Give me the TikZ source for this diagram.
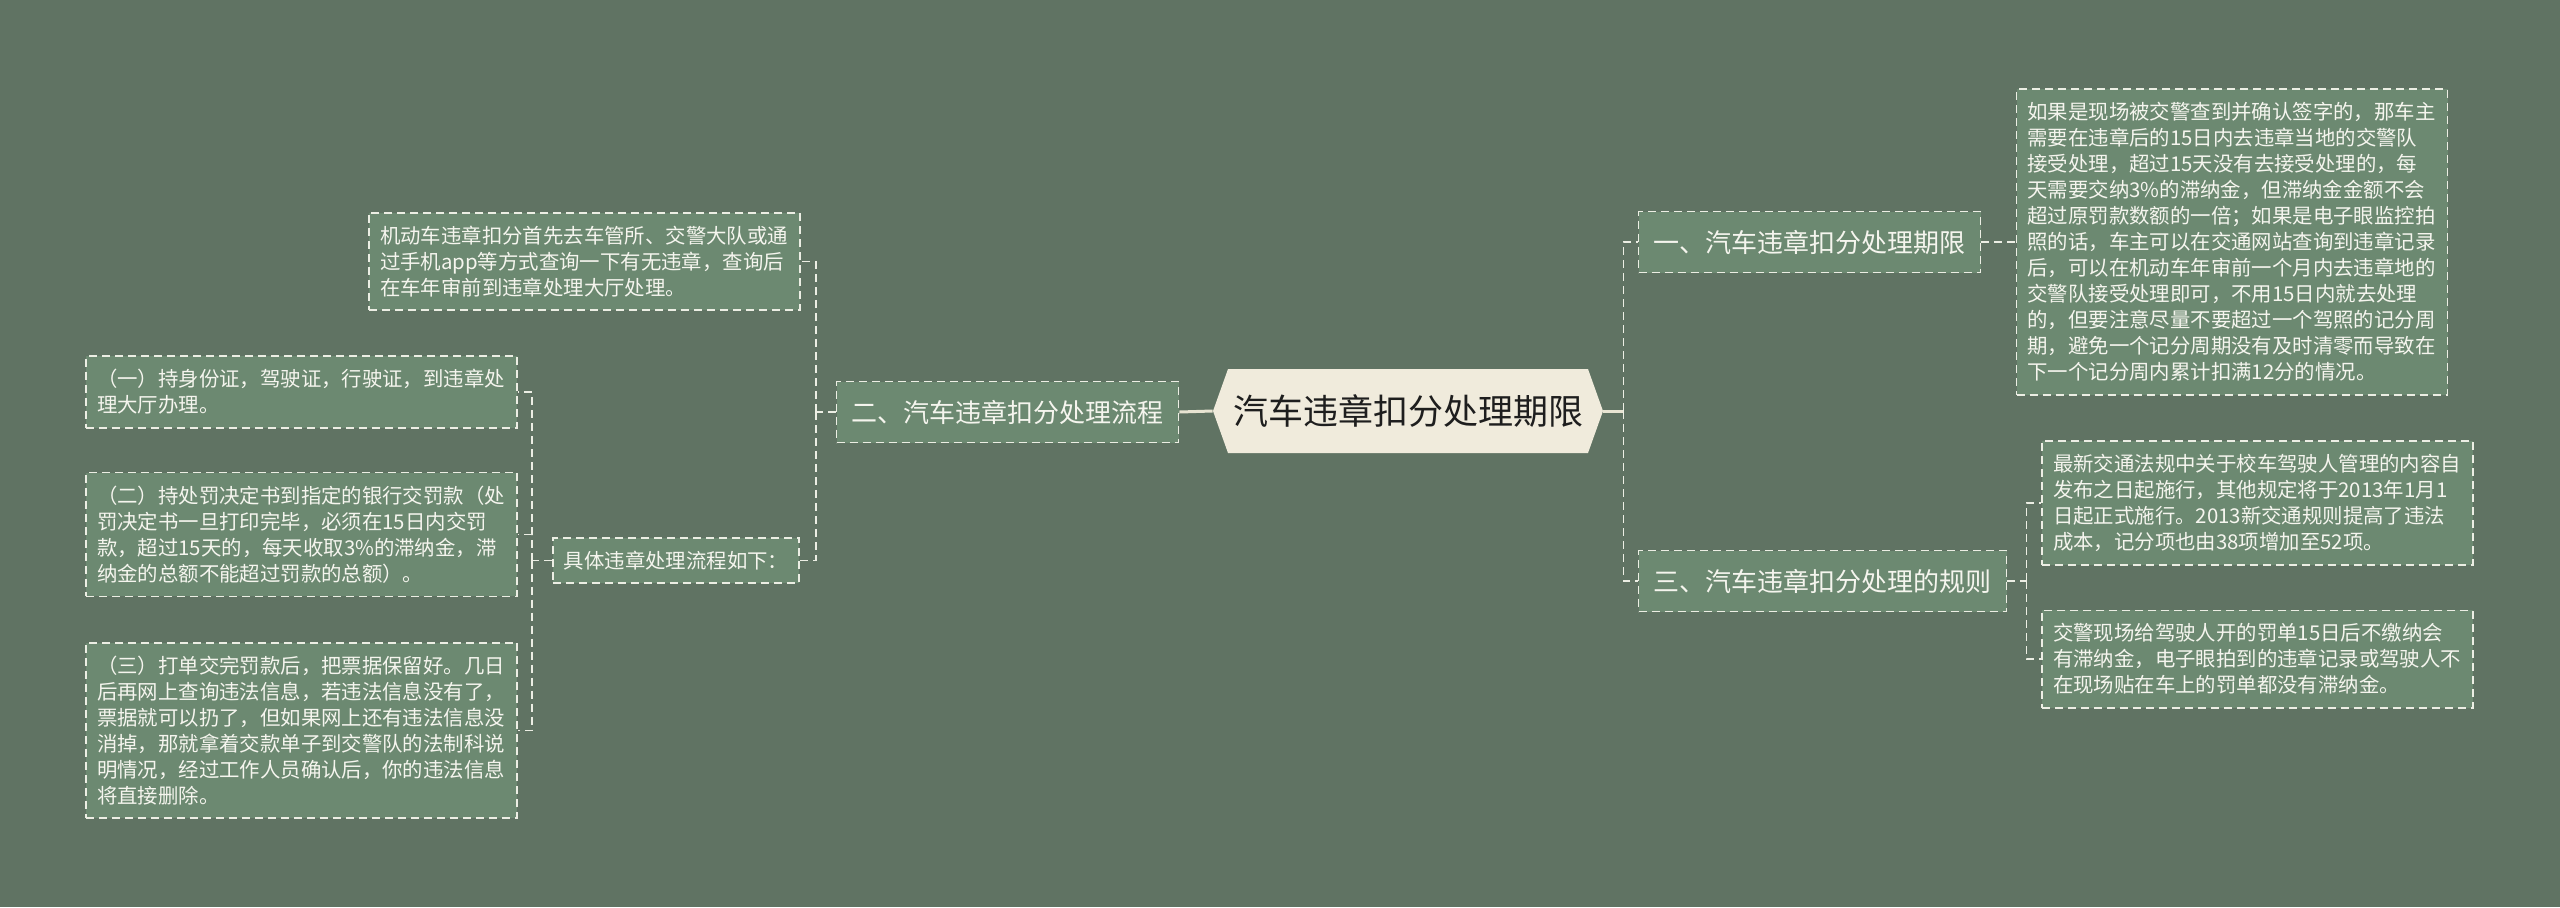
\documentclass[tikz,border=0pt]{standalone}
\usepackage{fontspec}
\setmainfont{Noto Sans CJK SC}
\usetikzlibrary{positioning, shapes.symbols}

\tikzset{
  dbox/.style={draw=linecol, line width=0.8pt, dash pattern=on 4pt off 2.5pt, fill=boxfill, text=txtcol},
  leaf/.style={dbox, text width=204.5pt, align=left, inner xsep=5.5pt, inner ysep=6.6pt, font=\fontsize{10.2}{13}\selectfont},
  note/.style={dbox, inner xsep=5.5pt, minimum height=22.5pt, font=\fontsize{10.2}{13}\selectfont},
  branch/.style={dbox, inner xsep=7.5pt, minimum height=30.5pt, font=\fontsize{13}{15}\selectfont},
  topic/.style={signal, signal to=west and east, signal pointer angle=140.7, fill=rootfill, text=roottxt, inner xsep=2.5pt, minimum height=42pt, font=\fontsize{17.5}{20}\selectfont},
  link/.style={draw=solidcol, line width=1.5pt},
  dlink/.style={draw=linecol, line width=0.8pt, dash pattern=on 4pt off 2.5pt}
}

\begin{document}
\begin{tikzpicture}[x=0.5pt, y=-0.5pt]

% Define colors
\definecolor{bgcol}{RGB}{96, 115, 99}
\definecolor{boxfill}{RGB}{108, 137, 113}
\definecolor{linecol}{RGB}{236, 238, 228}
\definecolor{txtcol}{RGB}{245, 245, 238}
\definecolor{rootfill}{RGB}{240, 235, 220}
\definecolor{roottxt}{RGB}{30, 30, 30}
\definecolor{solidcol}{RGB}{232, 228, 210}

% Background
\useasboundingbox (0, 0) rectangle (2560, 907);
\fill[bgcol] (0, 0) rectangle (2560, 907);

% Central topic
\node[topic] (top) at (1408, 411) {汽车违章扣分处理期限};

% Main branches
\node[branch] (b1) at (1809.5, 242) {一、汽车违章扣分处理期限};
\node[branch] (b2) at (1007.5, 412) {二、汽车违章扣分处理流程};
\node[branch] (b3) at (1822.5, 581) {三、汽车违章扣分处理的规则};

% Left side leaves
\node[leaf] (l1) at (584.5, 261.5) {机动车违章扣分首先去车管所、交警大队或通\\过手机app等方式查询一下有无违章，查询后\\在车年审前到违章处理大厅处理。};
\node[note] (sub) at (676, 560.5) {具体违章处理流程如下：};
\node[leaf] (s1) at (301.5, 392) {（一）持身份证，驾驶证，行驶证，到违章处\\理大厅办理。};
\node[leaf] (s2) at (301.5, 534.5) {（二）持处罚决定书到指定的银行交罚款（处\\罚决定书一旦打印完毕，必须在15日内交罚\\款，超过15天的，每天收取3\%的滞纳金，滞\\纳金的总额不能超过罚款的总额）。};
\node[leaf] (s3) at (301.5, 730.5) {（三）打单交完罚款后，把票据保留好。几日\\后再网上查询违法信息，若违法信息没有了，\\票据就可以扔了，但如果网上还有违法信息没\\消掉，那就拿着交款单子到交警队的法制科说\\明情况，经过工作人员确认后，你的违法信息\\将直接删除。};

% Right side leaves
\node[leaf] (r1) at (2232, 242) {如果是现场被交警查到并确认签字的，那车主\\需要在违章后的15日内去违章当地的交警队\\接受处理，超过15天没有去接受处理的，每\\天需要交纳3\%的滞纳金，但滞纳金金额不会\\超过原罚款数额的一倍；如果是电子眼监控拍\\照的话，车主可以在交通网站查询到违章记录\\后，可以在机动车年审前一个月内去违章地的\\交警队接受处理即可，不用15日内就去处理\\的，但要注意尽量不要超过一个驾照的记分周\\期，避免一个记分周期没有及时清零而导致在\\下一个记分周内累计扣满12分的情况。};
\node[leaf] (r2) at (2257.5, 503) {最新交通法规中关于校车驾驶人管理的内容自\\发布之日起施行，其他规定将于2013年1月1\\日起正式施行。2013新交通规则提高了违法\\成本，记分项也由38项增加至52项。};
\node[leaf] (r3) at (2257.5, 659) {交警现场给驾驶人开的罚单15日后不缴纳会\\有滞纳金，电子眼拍到的违章记录或驾驶人不\\在现场贴在车上的罚单都没有滞纳金。};

% Connectors on the left
\draw[link] (top.west) -- (b2.east);
\draw[dlink] (b2.west) -- ++(-20, 0) coordinate (lj);
\draw[dlink] (lj) |- (l1.east);
\draw[dlink] (lj) |- (sub.east);
\draw[dlink] (sub.west) -- ++(-20, 0) coordinate (sj);
\draw[dlink] (sj) |- (s1.east);
\draw[dlink] (sj) |- (s2.east);
\draw[dlink] (sj) |- (s3.east);

% Connectors on the right
\draw[link] (top.east) -- ++(20, 0) coordinate (rj);
\draw[dlink] (rj) |- (b1.west);
\draw[dlink] (rj) |- (b3.west);
\draw[dlink] (b1.east) -- (r1.west);
\draw[dlink] (b3.east) -- ++(19, 0) coordinate (tj);
\draw[dlink] (tj) |- (r2.west);
\draw[dlink] (tj) |- (r3.west);

\end{tikzpicture}
\end{document}
